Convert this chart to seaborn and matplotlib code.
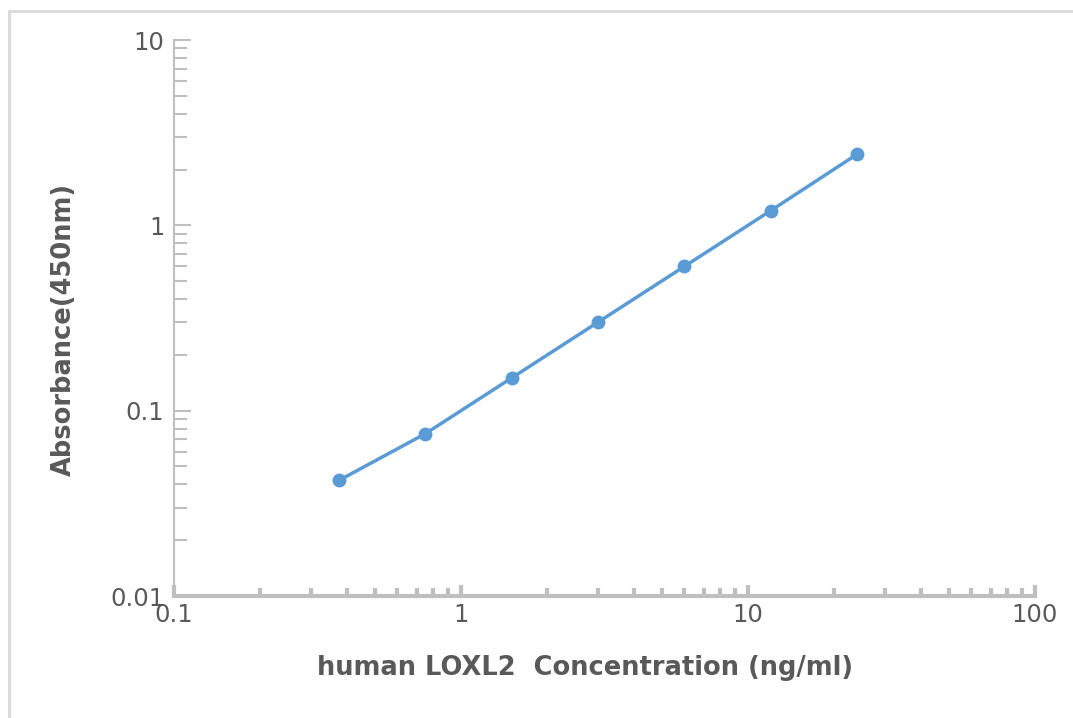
import numpy as np
import pandas as pd
import matplotlib
matplotlib.use("Agg")
import matplotlib.pyplot as plt
import matplotlib.ticker as mticker
from matplotlib.lines import Line2D
import seaborn as sns

# standard curve data
conc = [0.375, 0.75, 1.5, 3, 6, 12, 24]
absorb = [0.042, 0.075, 0.150, 0.300, 0.600, 1.20, 2.42]

df = pd.DataFrame({"conc": conc, "abs": absorb})

sns.set_style("white")
plt.rcParams['font.family'] = ['DejaVu Sans']

text_col = '#595959'
axis_col = '#BFBFBF'
line_col = '#5B9BD5'

fig = plt.figure(figsize=(10.73, 7.18), dpi=100)
ax = fig.add_axes([174/1073, 1 - 596/718, (1035 - 174)/1073, (596 - 40)/718])

sns.lineplot(data=df, x="conc", y="abs", ax=ax, color=line_col, linewidth=2.5,
             marker='o', markersize=10, markeredgewidth=0)

ax.set_xscale('log')
ax.set_yscale('log')
ax.set_xlim(0.1, 100)
ax.set_ylim(0.01, 10)

# spines
for s in ['top', 'right']:
    ax.spines[s].set_visible(False)
ax.spines['left'].set_color(axis_col)
ax.spines['left'].set_linewidth(1.5)
ax.spines['bottom'].set_color(axis_col)
ax.spines['bottom'].set_linewidth(3)

# ticks
ax.xaxis.set_major_locator(mticker.LogLocator(base=10, numticks=10))
ax.xaxis.set_minor_locator(mticker.LogLocator(base=10, subs=np.arange(2, 10), numticks=10))
ax.yaxis.set_major_locator(mticker.LogLocator(base=10, numticks=10))
ax.yaxis.set_minor_locator(mticker.LogLocator(base=10, subs=np.arange(2, 10), numticks=10))
fmt = mticker.FuncFormatter(lambda v, p: f"{v:g}")
ax.xaxis.set_major_formatter(fmt)
ax.yaxis.set_major_formatter(fmt)
ax.xaxis.set_minor_formatter(mticker.NullFormatter())
ax.yaxis.set_minor_formatter(mticker.NullFormatter())

ax.tick_params(axis='both', which='both', bottom=True, left=True)
ax.tick_params(axis='x', which='major', direction='in', length=8, width=3,
               color=axis_col, labelcolor=text_col, labelsize=17.5, pad=5)
ax.tick_params(axis='x', which='minor', direction='in', length=6, width=3, color=axis_col)
ax.tick_params(axis='y', which='major', direction='in', length=12, width=1.5,
               color=axis_col, labelcolor=text_col, labelsize=17.5, pad=7)
ax.tick_params(axis='y', which='minor', direction='in', length=9, width=1.5, color=axis_col)

ax.set_xlabel("human LOXL2  Concentration (ng/ml)", fontsize=18.5, fontweight='bold',
              color=text_col)
ax.set_ylabel("Absorbance(450nm)", fontsize=18.5, fontweight='bold',
              color=text_col)
ax.xaxis.set_label_coords(0.477, -0.106)
ax.yaxis.set_label_coords(-0.113, 0.48)

# outer chart border (cropped at right and bottom)
fig.add_artist(Line2D([9/1073, 1.0], [1 - 11/718, 1 - 11/718], transform=fig.transFigure,
                      color='#D9D9D9', linewidth=2))
fig.add_artist(Line2D([9/1073, 9/1073], [0.0, 1 - 11/718], transform=fig.transFigure,
                      color='#D9D9D9', linewidth=2))

fig.savefig("out.png", dpi=100)
